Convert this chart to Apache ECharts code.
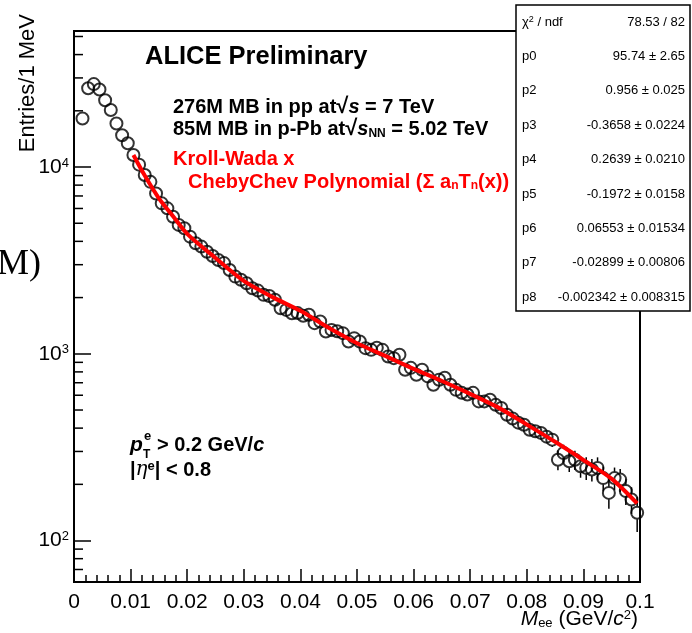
<!DOCTYPE html>
<html><head><meta charset="utf-8">
<script src="https://cdn.jsdelivr.net/npm/echarts@6/dist/echarts.min.js"></script>
<style>html,body{margin:0;padding:0;background:#fff}#c{width:692px;height:633px}</style>
</head><body><div id="c"></div>
<script>
// ---------- data ----------
const massBins = [
  0.0015,0.0025,0.0035,0.0045,0.0055,0.0065,0.0075,0.0085,0.0095,
  0.0105,0.0115,0.0125,0.0135,0.0145,0.0155,0.0165,0.0175,0.0185,0.0195,
  0.0205,0.0215,0.0225,0.0235,0.0245,0.0255,0.0265,0.0275,0.0285,0.0295,
  0.0305,0.0315,0.0325,0.0335,0.0345,0.0355,0.0365,0.0375,0.0385,0.0395,
  0.0405,0.0415,0.0425,0.0435,0.0445,0.0455,0.0465,0.0475,0.0485,0.0495,
  0.0505,0.0515,0.0525,0.0535,0.0545,0.0555,0.0565,0.0575,0.0585,0.0595,
  0.0605,0.0615,0.0625,0.0635,0.0645,0.0655,0.0665,0.0675,0.0685,0.0695,
  0.0705,0.0715,0.0725,0.0735,0.0745,0.0755,0.0765,0.0775,0.0785,0.0795,
  0.0805,0.0815,0.0825,0.0835,0.0845,0.0855,0.0865,0.0875,0.0885,0.0895,
  0.0905,0.0915,0.0925,0.0935,0.0945,0.0955,0.0965,0.0975,0.0985,0.0995
];
const entries = [
  18200,26400,27800,26000,22800,20200,17100,14800,13400,
  11600,10300,9060,8330,7220,6390,6010,5420,4900,4700,
  4240,3910,3750,3520,3340,3180,3060,2810,2590,2490,
  2387,2244,2180,2068,2040,1946,1755,1718,1650,1652,
  1600,1618,1459,1489,1316,1343,1320,1290,1163,1213,
  1163,1072,1050,1077,1050,968,948,988,821,841,
  772,821,757,683,726,745,683,641,618,605,
  618,556,556,568,533,513,472,450,428,417,
  392,385,377,360,347,271,294,266,271,250,
  245,240,245,216,180,216,212,184,166,141
];
const entryErrors = [
  270,400,420,390,340,300,260,220,200,
  170,150,135,125,110,95,90,80,75,70,
  65,60,56,53,50,48,46,42,39,37,
  36,34,33,31,31,29,26,26,25,25,
  24,48,44,45,40,40,40,39,35,36,
  35,32,32,33,32,30,29,30,26,27,
  25,26,25,23,24,24,22,21,21,21,
  21,25,25,26,25,26,25,24,24,25,
  25,26,26,28,30,33,32,33,32,33,
  34,33,34,33,32,30,30,29,27,30
];
const fitMass   = [0.0105,0.0125,0.015,0.0175,0.02,0.025,0.03,0.035,0.04,0.045,0.05,0.055,0.06,0.065,0.07,0.075,0.08,0.085,0.09,0.095,0.0995];
const fitValues = [11600,9000,6800,5450,4390,3260,2455,2017,1698,1378,1140,975,830,715,610,515,418,338,270,214,158];
const xTickLabels = ['0','0.01','0.02','0.03','0.04','0.05','0.06','0.07','0.08','0.09','0.1'];
const yMinorTicks = [60,70,80,90,200,300,400,500,600,700,800,900,2000,3000,4000,5000,6000,7000,8000,9000,20000,30000,40000,50000];
const statNames  = ['{t|χ}{sup|2}{t| / ndf}','p0','p2','p3','p4','p5','p6','p7','p8'];
const statValues = ['78.53 / 82','95.74 ± 2.65','0.956 ± 0.025','-0.3658 ± 0.0224','0.2639 ± 0.0210','-0.1972 ± 0.0158','0.06553 ± 0.01534','-0.02899 ± 0.00806','-0.002342 ± 0.008315'];

// ---------- chart ----------
const F = '"Liberation Sans", Arial, Helvetica, sans-serif';
const chart = echarts.init(document.getElementById('c'), null, {renderer:'canvas'});

const graphics = [];
// stat box
const boxX = 516, boxY = 5, boxW = 174, boxH = 306;
graphics.push({type:'rect', z:100, shape:{x:boxX, y:boxY, width:boxW, height:boxH},
  style:{fill:'#fff', stroke:'#000', lineWidth:1.5}});
statNames.forEach((n, i) => {
  const cy = boxY + 17 + i*34.4;
  graphics.push({type:'text', z:101, x:boxX+6, y:cy, style:{text:n, fill:'#000', font:'13px '+F,
    align:'left', verticalAlign:'middle',
    rich:{t:{fontSize:13,fontFamily:F}, sup:{fontSize:9,fontFamily:F,verticalAlign:'top'}}}});
  graphics.push({type:'text', z:101, x:boxX+boxW-5, y:cy, style:{text:statValues[i], fill:'#000', font:'13px '+F,
    align:'right', verticalAlign:'middle'}});
});
// y title
graphics.push({type:'text', z:50, x:28, y:14, rotation:Math.PI/2,
  style:{text:'Entries/1 MeV', fill:'#000', font:'22px '+F, align:'right', verticalAlign:'middle'}});
// x title
graphics.push({type:'text', z:50, x:638, y:619,
  style:{text:'{i|M}{sub|ee}{n| (GeV/}{i|c}{sup|2}{n|)}', fill:'#000', align:'right', verticalAlign:'middle',
    rich:{n:{fontSize:21,fontFamily:F}, i:{fontSize:21,fontFamily:F,fontStyle:'italic'},
      sub:{fontSize:13,fontFamily:F,verticalAlign:'bottom',padding:[6,0,0,0]}, sup:{fontSize:13,fontFamily:F,verticalAlign:'top'}}}});
// cropped fragment at left
graphics.push({type:'text', z:50, x:-3, y:265,
  style:{text:'M)', fill:'#000', font:'36px "Liberation Serif", "DejaVu Serif", serif', align:'left', verticalAlign:'middle'}});
// annotations
graphics.push({type:'text', z:50, x:145, y:57,
  style:{text:'ALICE Preliminary', fill:'#000', font:'bold 25.5px '+F, align:'left', verticalAlign:'middle'}});
const richB = {n:{fontSize:20,fontWeight:'bold',fontFamily:F}, i:{fontSize:20,fontWeight:'bold',fontStyle:'italic',fontFamily:F},
  r:{fontSize:22,fontFamily:F,fontWeight:'bold'},
  sub:{fontSize:12,fontWeight:'bold',fontFamily:F,verticalAlign:'bottom',padding:[6,0,0,0]},
  sup:{fontSize:13,fontWeight:'bold',fontFamily:F,verticalAlign:'top'}};
graphics.push({type:'text', z:50, x:173, y:107,
  style:{text:'{n|276M MB in pp at}{r|√}{i|s}{n| = 7 TeV}', fill:'#000', align:'left', verticalAlign:'middle', rich:richB}});
graphics.push({type:'text', z:50, x:173, y:129,
  style:{text:'{n|85M MB in p-Pb at}{r|√}{i|s}{sub|NN}{n| = 5.02 TeV}', fill:'#000', align:'left', verticalAlign:'middle', rich:richB}});
graphics.push({type:'text', z:50, x:173, y:159,
  style:{text:'{n|Kroll-Wada x}', fill:'#ff0000', align:'left', verticalAlign:'middle', rich:richB}});
graphics.push({type:'text', z:50, x:188, y:182,
  style:{text:'{n|ChebyChev Polynomial (Σ a}{sub|n}{n|T}{sub|n}{n|(x))}', fill:'#ff0000', align:'left', verticalAlign:'middle', rich:richB}});
// pT cut
graphics.push({type:'text', z:50, x:130, y:445,
  style:{text:'p', fill:'#000', font:'italic bold 21px '+F, align:'left', verticalAlign:'middle'}});
graphics.push({type:'text', z:50, x:143, y:455,
  style:{text:'T', fill:'#000', font:'bold 12px '+F, align:'left', verticalAlign:'middle'}});
graphics.push({type:'text', z:50, x:144, y:436,
  style:{text:'e', fill:'#000', font:'bold 13px '+F, align:'left', verticalAlign:'middle'}});
graphics.push({type:'text', z:50, x:157, y:445,
  style:{text:'{n|> 0.2 GeV/}{i|c}', fill:'#000', align:'left', verticalAlign:'middle', rich:richB}});
graphics.push({type:'text', z:50, x:130, y:470,
  style:{text:'{n||}{e|η}{sup|e}{n|| < 0.8}', fill:'#000', align:'left', verticalAlign:'middle',
    rich:Object.assign({}, richB, {e:{fontSize:20,fontStyle:'italic',fontFamily:'"DejaVu Serif", serif'}})}});

chart.setOption({
  animation:false,
  backgroundColor:'#fff',
  grid:{left:74, right:52, top:31, bottom:51, show:true, borderColor:'#000', borderWidth:2, backgroundColor:'transparent'},
  xAxis:{type:'value', min:0, max:0.1, interval:0.01,
    axisLine:{show:true, lineStyle:{color:'#000', width:2}},
    axisTick:{show:true, inside:true, length:13, lineStyle:{color:'#000', width:1.5}},
    minorTick:{show:true, splitNumber:5, length:7, lineStyle:{color:'#000', width:1.5}},
    splitLine:{show:false},
    axisLabel:{margin:10, color:'#000', fontSize:21, fontFamily:F,
      formatter:v => xTickLabels[Math.round(v*100)] ?? ''}},
  yAxis:{type:'log', logBase:10, min:60, max:53500,
    axisLine:{show:true, lineStyle:{color:'#000', width:2}},
    axisTick:{show:true, inside:true, length:17, lineStyle:{color:'#000', width:1.5}},
    splitLine:{show:false},
    axisLabel:{margin:5, color:'#000',
      formatter:v => {const e = Math.round(Math.log10(v)); return Math.abs(v - Math.pow(10,e)) / v < 1e-6 ? '{b|10}{s|' + e + '}' : '';},
      rich:{b:{fontSize:21,fontFamily:F,color:'#000'}, s:{fontSize:13,fontFamily:F,color:'#000',verticalAlign:'top'}}}},
  graphic:graphics,
  series:[
    {type:'custom', name:'minorY', silent:true, z:3,
      data:yMinorTicks.map(v => [0, v]),
      renderItem:(params, api) => {
        const p = api.coord([0, api.value(1)]);
        return {type:'line', shape:{x1:p[0], y1:p[1], x2:p[0]+9, y2:p[1]}, style:{stroke:'#000', lineWidth:1.5}};
      }},
    {type:'custom', name:'errors', silent:true, z:4,
      data:massBins.map((m,i) => [m, entries[i], entryErrors[i]]),
      renderItem:(params, api) => {
        const x = api.value(0), y = api.value(1), e = api.value(2), r = 6.5;
        const c = api.coord([x, y]), lo = api.coord([x, y - e]), hi = api.coord([x, y + e]);
        const ch = [];
        if (lo[1] > c[1] + r) ch.push({type:'line', shape:{x1:c[0], y1:c[1]+r, x2:c[0], y2:lo[1]}, style:{stroke:'#000', lineWidth:1.5}});
        if (hi[1] < c[1] - r) ch.push({type:'line', shape:{x1:c[0], y1:hi[1], x2:c[0], y2:c[1]-r}, style:{stroke:'#000', lineWidth:1.5}});
        return {type:'group', children:ch};
      }},
    {type:'scatter', name:'data', z:5, symbol:'circle', symbolSize:12,
      data:massBins.map((m,i) => [m, entries[i]]),
      itemStyle:{color:'rgba(0,0,0,0)', borderColor:'#000', borderWidth:2}},
    {type:'line', name:'fit', z:6, smooth:0.3, showSymbol:false,
      data:fitMass.map((m,i) => [m, fitValues[i]]),
      lineStyle:{color:'#ff0000', width:4}}
  ]
});
</script>
</body></html>
